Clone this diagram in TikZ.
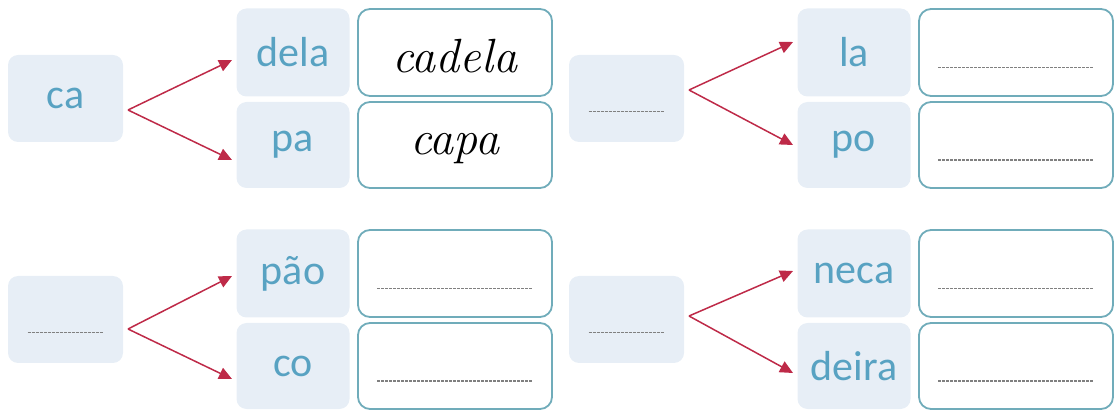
\documentclass[tikz,border=0pt]{standalone}
\usepackage{fontspec}
\newfontfamily\sylfont{Carlito}
\usetikzlibrary{arrows.meta}

\definecolor{syltext}{RGB}{88,162,194}
\definecolor{sylfill}{RGB}{231,238,246}
\definecolor{ansline}{RGB}{112,172,186}
\definecolor{arrowred}{RGB}{190,42,72}

\begin{document}
\begin{tikzpicture}[x=1pt,y=-1pt,
    sylbox/.style={rectangle,rounded corners=10pt,fill=sylfill,text=syltext,
        minimum width=113pt,minimum height=88pt,inner sep=0pt,
        font=\sylfont\fontsize{42}{44}\selectfont},
    ansbox/.style={rectangle,rounded corners=12pt,draw=ansline,line width=1.8pt,
        fill=white,minimum width=194pt,minimum height=87pt,inner sep=0pt},
    link/.style={draw=arrowred,line width=1.5pt,-{Triangle[length=13pt,width=12pt]}},
    blank/.style={draw=black!50,line width=1.8pt,dash pattern=on 3pt off 1pt},
    handw/.style={font=\rmfamily\itshape\fontsize{48}{50}\selectfont}]
    \useasboundingbox (0,0) rectangle (1116,411);

    % Quatre groupes : syllabe, fleches, deux syllabes, deux cases reponse
    \foreach \i/\gx/\gy/\sa/\sb/\vy/\ta/\tb in {
        1/0/0/dela/pa/110/60/160,
        2/561/0/la/po/90/42/145,
        3/0/221/pão/co/108/55/158,
        4/561/221/neca/deira/95/50/152} {
        \begin{scope}[shift={(\gx,\gy)}]
            \node[sylbox,minimum width=115pt,minimum height=87pt] (L\i) at (65.5,98.5) {};
            \node[sylbox] (S\i a) at (293,52.5) {\sa};
            \node[sylbox,minimum height=86pt] (S\i b) at (293,145) {\sb};
            \node[ansbox] (R\i a) at (455,52.5) {};
            \node[ansbox,minimum height=86pt] (R\i b) at (455,145) {};
            % fleches
            \coordinate (V\i) at (128,\vy);
            \coordinate (T\i a) at (232,\ta);
            \coordinate (T\i b) at (232,\tb);
            \draw[link] (V\i) -- (T\i a);
            \draw[link] (V\i) -- (T\i b);
        \end{scope}
    }

    % Premier groupe : syllabe et mots ecrits
    \node[text=syltext,font=\sylfont\fontsize{42}{44}\selectfont] (Lt1) at (L1) {ca};
    \node[handw] (W1a) at ([yshift=-4pt]R1a.center) {cadela};
    \node[handw] (W1b) at ([yshift=-4pt]R1b.center) {capa};

    % Lignes a completer
    \foreach \i in {2,3,4} {
        \draw[blank] ([xshift=-38pt,yshift=-13pt]L\i.center) -- ([xshift=38pt,yshift=-13pt]L\i.center);
        \draw[blank] ([xshift=-78pt,yshift=-15pt]R\i a.center) -- ([xshift=78pt,yshift=-15pt]R\i a.center);
        \draw[blank] ([xshift=-78pt,yshift=-15pt]R\i b.center) -- ([xshift=78pt,yshift=-15pt]R\i b.center);
    }
\end{tikzpicture}
\end{document}
